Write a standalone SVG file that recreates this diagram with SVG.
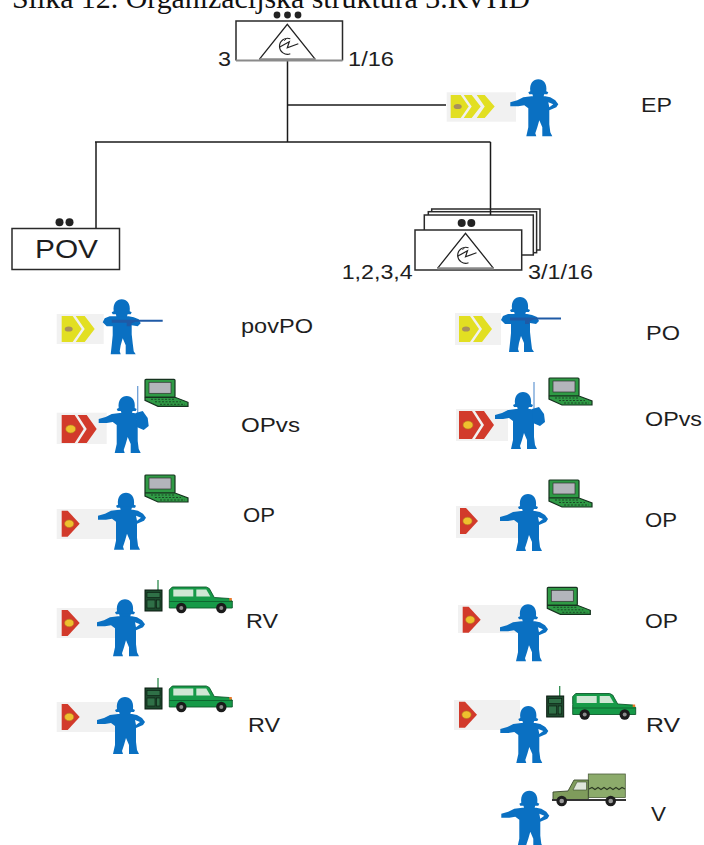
<svg xmlns="http://www.w3.org/2000/svg" width="704" height="845" viewBox="0 0 704 845">
  <style>
    .lbl { font-family: "Liberation Sans", Arial, sans-serif; font-size: 20px; fill: #1e1e1e; }
    .title { font-family: "Liberation Serif", "Times New Roman", serif; font-size: 29px; fill: #111; }
    .wire { stroke: #1a1a1a; stroke-width: 1.5; fill: none; }
    .box { fill: #fff; stroke: #2a2a2a; stroke-width: 1.5; }
    .blue { fill: #0a70c2; }
    .panel { fill: #f1f1f1; }
    .yel { fill: #e2df22; }
    .red { fill: #d23a2b; }
  </style>
  <defs>
    <!-- electronic-warfare unit triangle, apex at origin -->
    <g id="ewTri">
      <path d="M-28,35 L0,0 L28,35" fill="none" stroke="#222" stroke-width="1.3"/>
      <line x1="-28" y1="35" x2="28" y2="35" stroke="#8a8a8a" stroke-width="2.2"/>
      <path d="M3,14.5 A8,8 0 1 0 3,29.5" fill="none" stroke="#222" stroke-width="1.2"/>
      <path d="M-8,23 L2,17.5 L0,23.5 L11,19.5" fill="none" stroke="#222" stroke-width="1.2"/>
      <path d="M-3,16.5 L-1,14.5" fill="none" stroke="#222" stroke-width="1"/>
    </g>
    <!-- soldier, arm out / hand on hip; origin = top of helmet -->
    <g id="soldier">
      <path class="blue" d="M-8,12 C-9,4 -5,0 0,0 C5,0 9,4 8,12 L10,13 L9,15 L-9,15 L-10,13 Z"/>
      <path class="blue" d="M-6,14 L6,14 L5,19 L-5,19 Z"/>
      <path class="blue" fill-rule="evenodd" d="M-7,17 L7,17 L12,18 L17,21 L20,25 L18,28 L11,31 L11,36 L11,45 L12,53 L14,57 L4,57 L4,48 L1,41 L-1,48 L-3,54 L-2,57 L-12,57 L-10,48 L-10,38 L-10,29 L-14,26 L-20,27 L-28,27 L-28,23 L-21,21 L-15,18 Z M10,23 L15,25 L11,28 Z"/>
    </g>
    <!-- soldier carrying a rifle -->
    <g id="rifleman">
      <path class="blue" d="M-8,12 C-9,4 -5,0 0,0 C5,0 9,4 8,12 L10,13 L9,15 L-9,15 L-10,13 Z"/>
      <path class="blue" d="M-6,14 L6,14 L5,19 L-5,19 Z"/>
      <path class="blue" d="M-7,17 L7,17 L12,18 L17,20 L19,24 L16,27 L10,26 L10,35 L11,44 L12,52 L14,55 L4,55 L4,46 L1,39 L-1,46 L-2,52 L-1,55 L-11,55 L-10,46 L-9,36 L-9,27 L-15,27 L-19,23 L-17,19 L-12,17 Z"/>
      <path fill="#1f5aa6" d="M-10,20.5 L41,20.5 L41,22.5 L14,22.5 L10,24 L9,27 L5,27 L5,23.5 L-10,23.5 Z"/>
    </g>
    <!-- soldier with radio pack and whip antenna -->
    <g id="radioman">
      <line x1="11" y1="-10" x2="11" y2="18" stroke="#6f9fd6" stroke-width="1.3"/>
      <use href="#soldier"/>
      <path class="blue" d="M9,17 L16,15 L21,22 L22,30 L17,34 L10,31 Z"/>
    </g>
    <!-- laptop terminal; origin = top-left of screen -->
    <g id="laptop">
      <rect x="0" y="0" width="30" height="18" rx="1" fill="#2f9a45" stroke="#16331f" stroke-width="1.2"/>
      <rect x="4" y="3" width="22" height="11" fill="#b3b5bb" stroke="#333" stroke-width="0.7"/>
      <path d="M0,18 L30,18 L43,23 L43,27 L13,27 L0,21 Z" fill="#2f9a45" stroke="#16331f" stroke-width="1.2"/>
      <path d="M6,20 H30 M10,22.5 H36 M15,25 H40" stroke="#16331f" stroke-width="0.8" stroke-dasharray="2 1.5"/>
    </g>
    <!-- field radio set -->
    <g id="radio">
      <line x1="13" y1="1" x2="13" y2="-10" stroke="#2e8b4e" stroke-width="1.3"/>
      <rect x="0" y="0" width="17" height="21" fill="#1d4a2e" stroke="#0b1a10" stroke-width="1"/>
      <rect x="2" y="2.5" width="13" height="5" fill="#2f7047" stroke="#0b1a10" stroke-width="0.6"/>
      <rect x="2" y="10" width="8" height="8" fill="#2f7047" stroke="#0b1a10" stroke-width="0.6"/>
      <rect x="11.5" y="10" width="3.5" height="8" fill="#2f7047" stroke="#0b1a10" stroke-width="0.6"/>
    </g>
    <!-- jeep -->
    <g id="jeep">
      <path d="M1,12 L1,22 L64,22 L64,15 L61,12.5 L46,11.5 L41,2.5 L38,1 L4,1 L1,4 Z" fill="#169a48" stroke="#0d5a2b" stroke-width="0.9"/>
      <rect x="5" y="3.5" width="20" height="7" fill="#cfe7d4"/>
      <path d="M28,3.5 L38,3.5 L42,10.5 L28,10.5 Z" fill="#cfe7d4"/>
      <line x1="1" y1="15.5" x2="64" y2="15.5" stroke="#0d5a2b" stroke-width="0.8"/>
      <rect x="61" y="12" width="2.5" height="2.5" fill="#e8782a"/>
      <circle cx="13" cy="22" r="5.2" fill="#1b1b1b"/>
      <circle cx="13" cy="22" r="2" fill="#8c8c8c"/>
      <circle cx="53" cy="22" r="5.2" fill="#1b1b1b"/>
      <circle cx="53" cy="22" r="2" fill="#8c8c8c"/>
    </g>
    <!-- rank markings: yellow (staff) and red (unit) -->
    <g id="yel2">
      <path class="yel" d="M0,0 L11,0 L20,13 L11,26 L0,26 Z"/>
      <path class="yel" d="M14,0 L23,0 L33,13 L23,26 L14,26 L23,13 Z"/>
      <ellipse cx="7" cy="13" rx="4" ry="2.6" fill="#a8905c"/>
    </g>
    <g id="yel3">
      <path class="yel" d="M0,0 L10,0 L18,11.5 L10,23 L0,23 Z"/>
      <path class="yel" d="M13,0 L21,0 L30,11.5 L21,23 L13,23 L21,11.5 Z"/>
      <path class="yel" d="M26,0 L34,0 L44,11.5 L34,23 L26,23 L34,11.5 Z"/>
      <ellipse cx="7" cy="11.5" rx="4" ry="2.6" fill="#a8905c"/>
    </g>
    <g id="red2">
      <path class="red" d="M0,0 L13,0 L22,14 L13,28 L0,28 Z"/>
      <path class="red" d="M16,0 L25,0 L35,14 L25,28 L16,28 L25,14 Z"/>
      <ellipse cx="9" cy="14" rx="5" ry="4" fill="#efc02e" stroke="#b0801e" stroke-width="0.6"/>
    </g>
    <g id="red1">
      <path class="red" d="M0,0 L6,0 L18,13 L6,26 L0,26 Z"/>
      <ellipse cx="7.5" cy="13" rx="4.6" ry="3.8" fill="#efc02e" stroke="#b0801e" stroke-width="0.6"/>
    </g>
  </defs>

  <rect width="704" height="845" fill="#fff"/>

  <text class="title" x="12" y="8" textLength="518" lengthAdjust="spacingAndGlyphs">Slika 12. Organizacijska struktura 3.RVHD</text>

  <!-- connectors -->
  <g id="connectors">
    <line class="wire" x1="287.5" y1="60" x2="287.5" y2="142"/>
    <line class="wire" x1="287.5" y1="105" x2="446" y2="105"/>
    <line class="wire" x1="95" y1="142" x2="490.5" y2="142"/>
    <line class="wire" x1="96" y1="142" x2="96" y2="228" stroke-width="2"/>
    <line class="wire" x1="490.5" y1="142" x2="490.5" y2="209"/>
  </g>

  <!-- battalion HQ -->
  <g id="hq">
    <circle cx="277" cy="15" r="3.4" fill="#222"/>
    <circle cx="287.5" cy="15" r="3.4" fill="#222"/>
    <circle cx="298" cy="15" r="3.4" fill="#222"/>
    <path d="M236,60.5 L236,21 L342.5,21 L342.5,60.5" fill="#fff" stroke="#2a2a2a" stroke-width="1.5"/>
    <line x1="236" y1="60.5" x2="342.5" y2="60.5" stroke="#8a8a8a" stroke-width="2"/>
    <use href="#ewTri" transform="translate(287.3,24.3)"/>
    <text class="lbl" x="218" y="66" textLength="13" lengthAdjust="spacingAndGlyphs">3</text>
    <text class="lbl" x="348" y="66" textLength="46" lengthAdjust="spacingAndGlyphs">1/16</text>
  </g>

  <!-- EP element -->
  <g id="ep">
    <rect class="panel" x="446.7" y="92.3" width="69.3" height="29.4"/>
    <use href="#yel3" transform="translate(450.7,95)"/>
    <use href="#soldier" transform="translate(538.3,79.3)"/>
    <text class="lbl" x="641" y="112" textLength="31" lengthAdjust="spacingAndGlyphs">EP</text>
  </g>

  <!-- POV platoon -->
  <g id="pov">
    <circle cx="59.5" cy="222.3" r="4" fill="#222"/>
    <circle cx="69.5" cy="222.3" r="4" fill="#222"/>
    <rect class="box" x="12" y="228.5" width="107.5" height="41"/>
    <text class="lbl" x="35" y="258.3" style="font-size:26px" textLength="63" lengthAdjust="spacingAndGlyphs">POV</text>
  </g>

  <!-- companies 1-4 (stacked) -->
  <g id="companies">
    <rect class="box" x="431.7" y="209" width="108.3" height="41"/>
    <rect class="box" x="428.3" y="211.7" width="108.3" height="41"/>
    <rect class="box" x="424.3" y="215" width="109" height="40" stroke-width="2"/>
    <line class="wire" x1="490.5" y1="209" x2="490.5" y2="215"/>
    <circle cx="461.7" cy="223" r="4" fill="#222"/>
    <circle cx="471.3" cy="223" r="4" fill="#222"/>
    <rect class="box" x="415" y="230" width="106.7" height="40"/>
    <use href="#ewTri" transform="translate(465.5,233.3)"/>
    <text class="lbl" x="341.7" y="279.3" textLength="71" lengthAdjust="spacingAndGlyphs">1,2,3,4</text>
    <text class="lbl" x="528" y="279.3" textLength="65" lengthAdjust="spacingAndGlyphs">3/1/16</text>
  </g>

  <!-- left column: POV staff -->
  <g id="povPO">
    <rect class="panel" x="56.7" y="314" width="47" height="30"/>
    <use href="#yel2" transform="translate(61.7,316)"/>
    <use href="#rifleman" transform="translate(121.7,299.3)"/>
    <text class="lbl" x="241" y="333" textLength="72" lengthAdjust="spacingAndGlyphs">povPO</text>
  </g>
  <g id="povOPvs">
    <rect class="panel" x="56.7" y="412.7" width="50" height="31.3"/>
    <use href="#red2" transform="translate(61.7,415)"/>
    <use href="#radioman" transform="translate(126.7,396)"/>
    <use href="#laptop" transform="translate(145,379.3)"/>
    <text class="lbl" x="241" y="432" textLength="59" lengthAdjust="spacingAndGlyphs">OPvs</text>
  </g>
  <g id="povOP">
    <rect class="panel" x="56.7" y="509" width="61" height="30"/>
    <use href="#red1" transform="translate(61.7,510.7)"/>
    <use href="#soldier" transform="translate(126,492.7)"/>
    <use href="#laptop" transform="translate(145,475)"/>
    <text class="lbl" x="243" y="522" textLength="32" lengthAdjust="spacingAndGlyphs">OP</text>
  </g>
  <g id="povRV1">
    <rect class="panel" x="56.7" y="608" width="61" height="30"/>
    <use href="#red1" transform="translate(61.7,610)"/>
    <use href="#soldier" transform="translate(125,599.3)"/>
    <use href="#radio" transform="translate(145,590)"/>
    <use href="#jeep" transform="translate(168.3,586)"/>
    <text class="lbl" x="246" y="628" textLength="32" lengthAdjust="spacingAndGlyphs">RV</text>
  </g>
  <g id="povRV2">
    <rect class="panel" x="56.7" y="702" width="61" height="30"/>
    <use href="#red1" transform="translate(61.7,704)"/>
    <use href="#soldier" transform="translate(125,697)"/>
    <use href="#radio" transform="translate(145,688)"/>
    <use href="#jeep" transform="translate(168.3,685)"/>
    <text class="lbl" x="248" y="732" textLength="32" lengthAdjust="spacingAndGlyphs">RV</text>
  </g>

  <!-- right column: company staff -->
  <g id="coPO">
    <rect class="panel" x="455" y="313" width="46" height="32"/>
    <use href="#yel2" transform="translate(459,316)"/>
    <use href="#rifleman" transform="translate(520,297)"/>
    <text class="lbl" x="646" y="340" textLength="34" lengthAdjust="spacingAndGlyphs">PO</text>
  </g>
  <g id="coOPvs">
    <rect class="panel" x="456" y="409" width="52" height="32"/>
    <use href="#red2" transform="translate(459,411)"/>
    <use href="#radioman" transform="translate(523,392)"/>
    <use href="#laptop" transform="translate(549,378)"/>
    <text class="lbl" x="645" y="426" textLength="57" lengthAdjust="spacingAndGlyphs">OPvs</text>
  </g>
  <g id="coOP1">
    <rect class="panel" x="456" y="506" width="64" height="32"/>
    <use href="#red1" transform="translate(460,508)"/>
    <use href="#soldier" transform="translate(528,494)"/>
    <use href="#laptop" transform="translate(549,480)"/>
    <text class="lbl" x="645" y="527" textLength="32" lengthAdjust="spacingAndGlyphs">OP</text>
  </g>
  <g id="coOP2">
    <rect class="panel" x="458" y="605" width="63.7" height="28"/>
    <use href="#red1" transform="translate(462.7,606.7)"/>
    <use href="#soldier" transform="translate(528,604.3)"/>
    <use href="#laptop" transform="translate(547.3,587.3)"/>
    <text class="lbl" x="645" y="628" textLength="33" lengthAdjust="spacingAndGlyphs">OP</text>
  </g>
  <g id="coRV">
    <rect class="panel" x="454" y="700" width="66" height="30"/>
    <use href="#red1" transform="translate(459,701.7)"/>
    <use href="#soldier" transform="translate(528.3,706)"/>
    <use href="#radio" transform="translate(546.7,696)"/>
    <use href="#jeep" transform="translate(571.7,692.5)"/>
    <text class="lbl" x="646" y="732" textLength="34" lengthAdjust="spacingAndGlyphs">RV</text>
  </g>
  <g id="coV">
    <use href="#soldier" transform="translate(529.3,790.7)"/>
    <!-- covered truck -->
    <rect x="588.3" y="774" width="37" height="23.5" fill="#8cab6b" stroke="#4d5e3c" stroke-width="0.8"/>
    <polyline points="589,789 592,787.5 595,789.5 598,787.5 601,789.5 604,787.5 607,789.5 610,787.5 613,789.5 616,787.5 619,789.5 622,787.5 625,789" fill="none" stroke="#2c3a22" stroke-width="1.1"/>
    <path d="M553,792 L568,791 L574,780 L588.3,780 L588.3,800 L553,800 Z" fill="#7f9c5c" stroke="#3a4a2c" stroke-width="0.9"/>
    <path d="M577,782 L586.5,782 L586.5,790 L573,790 Z" fill="#dfe6da" stroke="#3a4a2c" stroke-width="0.6"/>
    <line x1="552" y1="800" x2="626" y2="800" stroke="#333" stroke-width="2"/>
    <circle cx="561.7" cy="801" r="5.3" fill="#1e1e1e"/>
    <circle cx="561.7" cy="801" r="2.3" fill="#9a9a9a"/>
    <circle cx="610.7" cy="801" r="5.3" fill="#1e1e1e"/>
    <circle cx="610.7" cy="801" r="2.3" fill="#9a9a9a"/>
    <text class="lbl" x="651" y="820.7" textLength="15" lengthAdjust="spacingAndGlyphs">V</text>
  </g>
</svg>
